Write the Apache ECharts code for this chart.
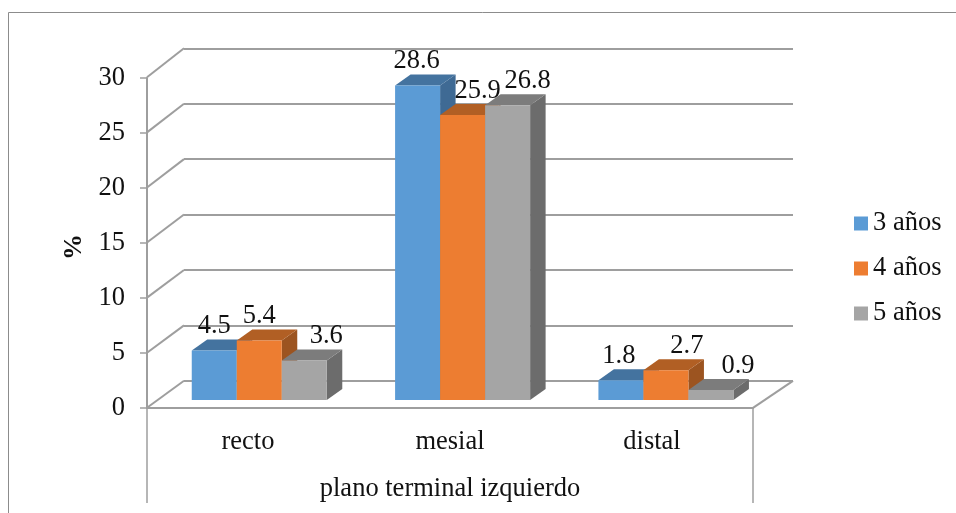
<!DOCTYPE html>
<html>
<head>
<meta charset="utf-8">
<style>html,body{margin:0;padding:0;background:#fff}#chart{width:956px;height:513px}</style>
<script src="https://cdn.jsdelivr.net/npm/echarts@6/dist/echarts.min.js"></script>
</head>
<body>
<div id="chart"></div>
<script>
// Plano terminal izquierdo por edad, columnas agrupadas con perspectiva
const categories = ['recto', 'mesial', 'distal'];
const years = ['3 años', '4 años', '5 años'];
const values3 = [4.5, 28.6, 1.8];
const values4 = [5.4, 25.9, 2.7];
const values5 = [3.6, 26.8, 0.9];
const yTicks = [0, 5, 10, 15, 20, 25, 30];

const seriesValues = [values3, values4, values5];
const faceColors = ['#5b9bd5', '#ed7d31', '#a5a5a5'];
const topColors = ['#44739f', '#b15f24', '#7c7c7c'];
const sideColors = ['#3f6a94', '#9c5420', '#6c6c6c'];

// Horizontal nudge of each value label, per category and year, to keep them apart
const labelNudge = [[0, 0, 22], [-1, 15, 20], [-2, 21, 27]];

const FONT = '"Liberation Serif", "Times New Roman", serif';
const TEXT = '#111';
const LINE = '#9e9e9e';
const FS = 26.5;
const DEPTH_X = 15.5, DEPTH_Y = 11;
const BAR_RATIO = 45 / 203.3;
const WALL_X = 37;

function barItem(s) {
  return function (params, api) {
    const cat = api.value(0), val = api.value(1);
    const base = api.coord([cat, 0]);
    const top = api.coord([cat, val]);
    const w = api.size([1, 0])[0] * BAR_RATIO;
    const x0 = base[0] + (s - 1.5) * w, x1 = x0 + w;
    const yT = top[1], yB = base[1];
    return {
      type: 'group',
      children: [
        { type: 'polygon', shape: { points: [[x1, yT], [x1 + DEPTH_X, yT - DEPTH_Y], [x1 + DEPTH_X, yB - DEPTH_Y], [x1, yB]] }, style: { fill: sideColors[s] } },
        { type: 'polygon', shape: { points: [[x0, yT], [x0 + DEPTH_X, yT - DEPTH_Y], [x1 + DEPTH_X, yT - DEPTH_Y], [x1, yT]] }, style: { fill: topColors[s] } },
        { type: 'rect', shape: { x: x0, y: yT, width: w, height: yB - yT }, style: { fill: faceColors[s] } }
      ]
    };
  };
}

const barSeries = years.map((name, s) => ({
  name,
  type: 'custom',
  coordinateSystem: 'cartesian2d',
  xAxisIndex: 2,
  yAxisIndex: 2,
  z: 3,
  itemStyle: { color: faceColors[s] },
  encode: { x: 0, y: 1 },
  data: categories.map((c, i) => [i, seriesValues[s][i]]),
  renderItem: barItem(s)
}));

const labelData = [];
years.forEach((name, s) => categories.forEach((c, i) => labelData.push([i, seriesValues[s][i], s])));

const labelSeries = {
  type: 'custom',
  coordinateSystem: 'cartesian2d',
  xAxisIndex: 2,
  yAxisIndex: 2,
  z: 5,
  silent: true,
  encode: { x: 0, y: 1 },
  data: labelData,
  renderItem(params, api) {
    const cat = api.value(0), val = api.value(1), s = api.value(2);
    const p = api.coord([cat, val]);
    const w = api.size([1, 0])[0] * BAR_RATIO;
    return {
      type: 'text',
      style: {
        x: p[0] + (s - 1) * w + labelNudge[cat][s],
        y: p[1] - 24.5,
        text: val.toFixed(1),
        fill: TEXT,
        font: FS + 'px ' + FONT,
        align: 'center',
        verticalAlign: 'middle'
      }
    };
  }
};

// Side walls and floor edges joining the front plane to the back wall
const wallSeries = {
  type: 'custom',
  coordinateSystem: 'cartesian2d',
  xAxisIndex: 1,
  yAxisIndex: 1,
  z: 1,
  silent: true,
  encode: { y: 0 },
  data: yTicks.map(v => [v]),
  renderItem(params, api) {
    const v = api.value(0);
    const box = params.coordSys;
    const y = api.coord([0, v])[1];
    const children = [{
      type: 'line',
      shape: { x1: box.x, y1: y, x2: box.x - WALL_X, y2: y + 27 + v / 15 },
      style: { stroke: LINE, lineWidth: 2 }
    }];
    if (v === 0) {
      children.push({
        type: 'line',
        shape: { x1: box.x + box.width, y1: y, x2: box.x + box.width - 40, y2: y + 27 },
        style: { stroke: LINE, lineWidth: 2 }
      });
    }
    return { type: 'group', children };
  }
};

// Outer dividers of the category band below the floor
const dividerSeries = {
  type: 'custom',
  coordinateSystem: 'cartesian2d',
  xAxisIndex: 0,
  yAxisIndex: 0,
  z: 1,
  silent: true,
  encode: { x: 0, y: 1 },
  data: [[0, 0]],
  renderItem(params) {
    const box = params.coordSys;
    const yB = box.y + box.height;
    return {
      type: 'group',
      children: [box.x, box.x + box.width].map(x => ({
        type: 'line',
        shape: { x1: x, y1: yB, x2: x, y2: yB + 95 },
        style: { stroke: LINE, lineWidth: 1.5 }
      }))
    };
  }
};

const chart = echarts.init(document.getElementById('chart'), null, { renderer: 'canvas' });
chart.setOption({
  backgroundColor: '#fff',
  animation: false,
  graphic: [{
    type: 'rect',
    shape: { x: 8.5, y: 12.5, width: 1000, height: 600 },
    style: { fill: 'none', stroke: '#8c8c8c', lineWidth: 1 },
    silent: true
  }],
  legend: {
    orient: 'vertical',
    left: 849,
    top: 204,
    itemWidth: 14,
    itemHeight: 14,
    itemGap: 16,
    icon: 'rect',
    selectedMode: false,
    data: years,
    textStyle: { fontFamily: FONT, fontSize: FS, color: TEXT, lineHeight: 29 }
  },
  grid: [
    { left: 147, top: 78, width: 606, height: 330, outerBoundsMode: 'none' },
    { left: 184, top: 48.3, width: 609, height: 332.5, outerBoundsMode: 'none' },
    { left: 157.6, top: 70, width: 610, height: 330, outerBoundsMode: 'none' }
  ],
  xAxis: [
    {
      gridIndex: 0,
      type: 'category',
      data: categories,
      axisLine: { lineStyle: { color: LINE, width: 2 } },
      axisTick: { show: false },
      axisLabel: { fontFamily: FONT, fontSize: FS, color: TEXT, margin: 21 },
      name: 'plano terminal izquierdo',
      nameLocation: 'middle',
      nameGap: 68,
      nameTextStyle: { fontFamily: FONT, fontSize: FS, color: TEXT }
    },
    { gridIndex: 1, type: 'category', data: categories, show: false },
    { gridIndex: 2, type: 'category', data: categories, show: false }
  ],
  yAxis: [
    {
      gridIndex: 0,
      type: 'value',
      min: 0,
      max: 30,
      interval: 5,
      splitLine: { show: false },
      axisLine: { show: true, lineStyle: { color: LINE, width: 2 } },
      axisTick: { show: true, length: 7, lineStyle: { color: LINE, width: 1.5 } },
      axisLabel: { fontFamily: FONT, fontSize: FS, color: TEXT, margin: 22 },
      name: '%',
      nameLocation: 'middle',
      nameGap: 60,
      nameRotate: 90,
      nameTextStyle: { fontFamily: FONT, fontSize: 26, fontWeight: 'bold', color: TEXT, padding: [0, 8, 0, 0] }
    },
    {
      gridIndex: 1,
      type: 'value',
      min: 0,
      max: 30,
      interval: 5,
      axisLine: { show: false },
      axisTick: { show: false },
      axisLabel: { show: false },
      splitLine: { show: true, lineStyle: { color: LINE, width: 2 } }
    },
    { gridIndex: 2, type: 'value', min: 0, max: 30, interval: 5, show: false, splitLine: { show: false } }
  ],
  series: [dividerSeries, wallSeries, ...barSeries, labelSeries]
});
</script>
</body>
</html>
